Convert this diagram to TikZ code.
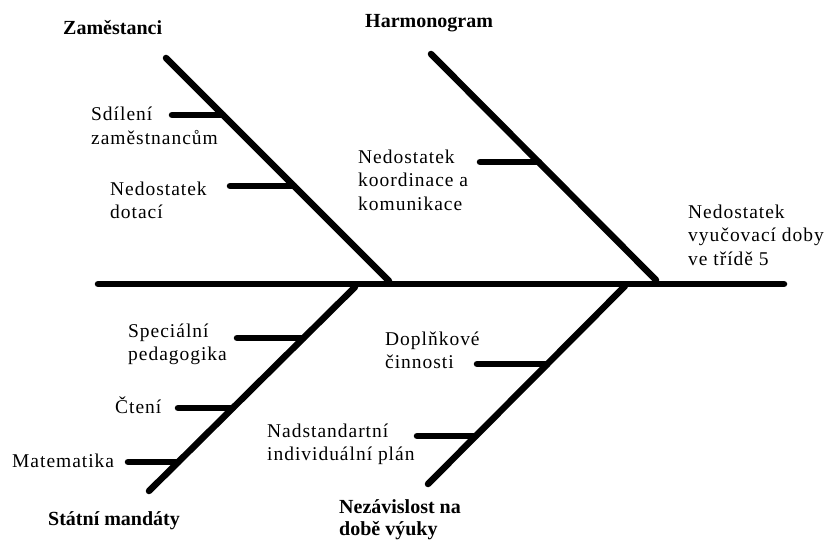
\documentclass[tikz,border=0pt]{standalone}
\usepackage{fontspec}
\newfontfamily\lab{Liberation Serif}[LetterSpace=5]
\newfontfamily\ttlfont{Liberation Serif}
\usetikzlibrary{calc}
\tikzset{
  bone/.style={line width=6.5pt, line cap=round, black},
  lbl/.style={anchor=base west, inner sep=0pt, align=left, font=\lab\fontsize{19.5}{23.5}\selectfont},
  ttl/.style={anchor=base west, inner sep=0pt, align=left, font=\ttlfont\bfseries\fontsize{20}{22}\selectfont},
}
\begin{document}
\begin{tikzpicture}[x=1pt,y=-1pt]
\useasboundingbox (0,0) rectangle (829,540);
% spine
\coordinate (sL) at (98,284);
\coordinate (sR) at (784,284);
\draw[bone] (sL) -- (sR);
% bone A (Zamestanci)
\coordinate (aT) at (166,58);
\coordinate (aB) at (389,281);
\draw[bone] (aT) -- (aB);
\coordinate (a1f) at (172,115); \coordinate (a1b) at (223,115);
\coordinate (a2f) at (230,186); \coordinate (a2b) at (294,186);
\draw[bone] (a1f) -- (a1b);
\draw[bone] (a2f) -- (a2b);
% bone B (Harmonogram)
\coordinate (bT) at (431,54);
\coordinate (bB) at (656,280);
\draw[bone] (bT) -- (bB);
\coordinate (b1f) at (480,162); \coordinate (b1b) at (539,162);
\draw[bone] (b1f) -- (b1b);
% bone C (Statni mandaty)
\coordinate (cT) at (355,287);
\coordinate (cB) at (149,491);
\draw[bone] (cT) -- (cB);
\coordinate (c1f) at (237,338); \coordinate (c1b) at (303.5,338);
\coordinate (c2f) at (178,408); \coordinate (c2b) at (232.8,408);
\coordinate (c3f) at (128,462); \coordinate (c3b) at (178.3,462);
\draw[bone] (c1f) -- (c1b);
\draw[bone] (c2f) -- (c2b);
\draw[bone] (c3f) -- (c3b);
% bone D (Nezavislost)
\coordinate (dT) at (625,286);
\coordinate (dB) at (428,484);
\draw[bone] (dT) -- (dB);
\coordinate (d1f) at (477,364); \coordinate (d1b) at (547.4,364);
\coordinate (d2f) at (417,436); \coordinate (d2b) at (475.8,436);
\draw[bone] (d1f) -- (d1b);
\draw[bone] (d2f) -- (d2b);
% titles (anchor = baseline of last line)
\node[ttl] (tA) at (63,35) {Zaměstanci};
\node[ttl] (tB) at (365,28) {Harmonogram};
\node[ttl] (tC) at (48,525) {Státní mandáty};
\node[ttl] (tD) at (339,535) {Nezávislost na\\době výuky};
% labels (anchor = baseline of last line)
\node[lbl] (la1) at (91,144.5) {Sdílení\\zaměstnancům};
\node[lbl] (la2) at (110,218.5) {Nedostatek\\dotací};
\node[lbl] (lb1) at (358,210) {Nedostatek\\koordinace a\\komunikace};
\node[lbl] (lh) at (688,265) {Nedostatek\\vyučovací doby\\ve třídě 5};
\node[lbl] (lc1) at (128,360.5) {Speciální\\pedagogika};
\node[lbl] (lc2) at (115,413) {Čtení};
\node[lbl] (lc3) at (12,467) {Matematika};
\node[lbl] (ld1) at (385,368.5) {Doplňkové\\činnosti};
\node[lbl] (ld2) at (267,460.5) {Nadstandartní\\individuální plán};
\end{tikzpicture}
\end{document}
